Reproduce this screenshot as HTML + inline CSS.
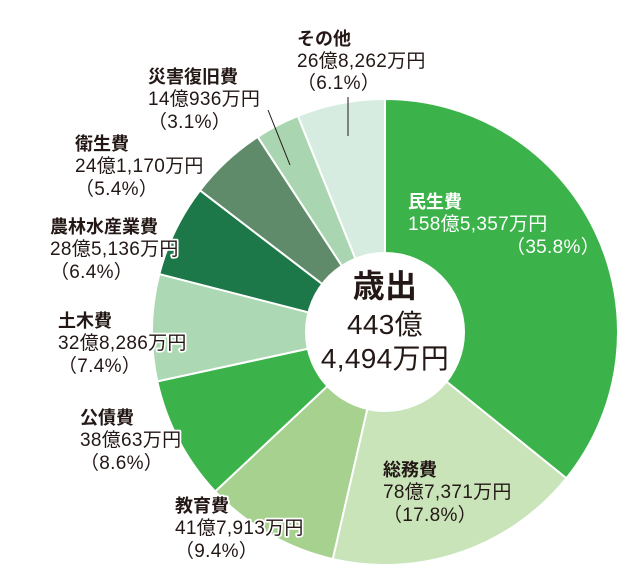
<!DOCTYPE html>
<html><head><meta charset="utf-8"><style>
html,body{margin:0;padding:0;background:#fff;width:628px;height:588px;overflow:hidden}
svg{display:block}
text{font-family:"Liberation Sans","Noto Sans CJK JP",sans-serif;fill:#231815;font-size:19px;letter-spacing:0.3px}
.b{font-weight:bold;font-size:18px;letter-spacing:0}
.h{stroke:#fff;stroke-width:3.5px;paint-order:stroke;stroke-linejoin:round}
.w{fill:#fff}
</style></head><body>
<svg id="s" width="628" height="588" viewBox="0 0 628 588">
<g id="pie"></g>
<circle cx="385" cy="332" r="80" fill="#fff"/>
<line x1="348" y1="97" x2="348" y2="136" stroke="#231815" stroke-width="1"/>
<line x1="268" y1="110" x2="290" y2="165" stroke="#231815" stroke-width="1"/>
<text x="385" y="297" text-anchor="middle" style="font-size:32px;font-weight:bold">歳出</text>
<text x="385" y="334" text-anchor="middle" style="font-size:28px">443億</text>
<text x="385" y="368" text-anchor="middle" style="font-size:28px">4,494万円</text>

<text class="b" x="297" y="45">その他</text>
<text x="297" y="67">26億8,262万円</text>
<text x="297" y="89">（6.1%）</text>

<text class="b h" x="148" y="83">災害復旧費</text>
<text class="h" x="148" y="105">14億936万円</text>
<text class="h" x="148" y="128">（3.1%）</text>

<text class="b h" x="75" y="150">衛生費</text>
<text class="h" x="75" y="172">24億1,170万円</text>
<text class="h" x="75" y="195">（5.4%）</text>

<text class="b h" x="50" y="233">農林水産業費</text>
<text class="h" x="50" y="255">28億5,136万円</text>
<text class="h" x="50" y="278">（6.4%）</text>

<text class="b h" x="58" y="327">土木費</text>
<text class="h" x="58" y="349">32億8,286万円</text>
<text class="h" x="58" y="372">（7.4%）</text>

<text class="b h" x="80" y="424">公債費</text>
<text class="h" x="80" y="446">38億63万円</text>
<text class="h" x="80" y="469">（8.6%）</text>

<text class="b h" x="175" y="512">教育費</text>
<text class="h" x="175" y="534">41億7,913万円</text>
<text class="h" x="175" y="557">（9.4%）</text>

<text class="b" x="383" y="476">総務費</text>
<text x="383" y="498">78億7,371万円</text>
<text x="383" y="521">（17.8%）</text>

<text class="b w" x="408" y="208">民生費</text>
<text class="w" x="408" y="230">158億5,357万円</text>
<text class="w" x="600" y="253" text-anchor="end">（35.8%）</text>
</svg>
<script>
var d=[[35.8,"#3bb34a"],[17.8,"#c9e4b9"],[9.4,"#a6d18f"],[8.6,"#3bb34a"],[7.4,"#acd8b3"],[6.4,"#1d7849"],[5.4,"#5f8b6b"],[3.1,"#a9d6b1"],[6.1,"#d7ece0"]];
var cx=385,cy=332,r=233,a=0,g=document.getElementById("pie"),h="";
d.forEach(function(e){var a2=a+e[0]/100*2*Math.PI;
var x1=cx+r*Math.sin(a),y1=cy-r*Math.cos(a),x2=cx+r*Math.sin(a2),y2=cy-r*Math.cos(a2);
h+='<path d="M'+cx+','+cy+'L'+x1+','+y1+'A'+r+','+r+' 0 '+(a2-a>Math.PI?1:0)+' 1 '+x2+','+y2+'Z" fill="'+e[1]+'" stroke="#fff" stroke-width="2"/>';a=a2;});
g.innerHTML=h;
</script>
</body></html>
